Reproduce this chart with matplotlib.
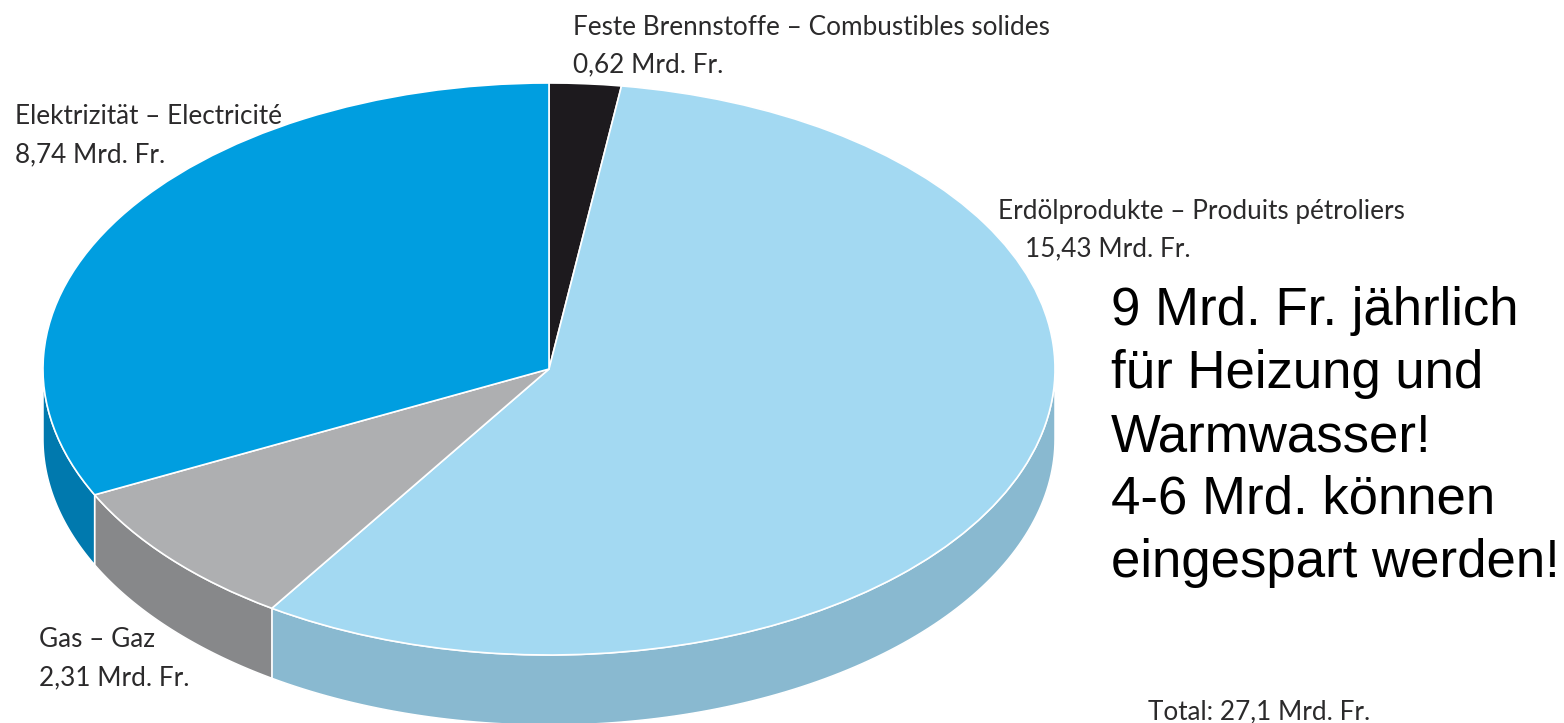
import numpy as np
import matplotlib
matplotlib.use("Agg")
import matplotlib.pyplot as plt
from matplotlib.patches import Wedge, Polygon
from matplotlib.transforms import Affine2D

# Energieausgaben Schweiz, Mrd. Fr. (clockwise from 12 o'clock)
labels = ["Feste Brennstoffe – Combustibles solides",
          "Erdölprodukte – Produits pétroliers",
          "Gas – Gaz",
          "Elektrizität – Electricité"]
values = [0.62, 15.43, 2.31, 8.74]
value_text = ["0,62 Mrd. Fr.", "15,43 Mrd. Fr.", "2,31 Mrd. Fr.", "8,74 Mrd. Fr."]
top_colors = ["#1d1a1e", "#a3d9f2", "#aeafb1", "#009ee0"]
side_colors = ["#141215", "#89b9d0", "#87888a", "#0079ae"]
total_text = "Total: 27,1 Mrd. Fr."
note_lines = ["9 Mrd. Fr. jährlich", "für Heizung und", "Warmwasser!",
              "4-6 Mrd. können", "eingespart werden!"]

# label placement (pixel coords, y down): left x of name / value, baselines
label_pos = [((573, 35), (573, 72)),
             ((998, 219), (1025, 256)),
             ((39, 647), (39, 685)),
             ((15, 124), (15, 162))]

W, H = 1564, 723
fig = plt.figure(figsize=(W / 100, H / 100), dpi=100)
ax = fig.add_axes([0, 0, 1, 1])
ax.set_xlim(0, W)
ax.set_ylim(H, 0)
ax.axis("off")

cx, cy, rx, ry, depth = 549, 369, 506, 286, 70
tr = Affine2D().scale(rx, -ry).translate(cx, cy) + ax.transData
d = depth / ry

fr = np.cumsum([0] + values) / sum(values)
t_start = 90 - 360 * fr[1:]   # wedge theta1
t_end = 90 - 360 * fr[:-1]    # wedge theta2

# side walls (front half only: -180..0 deg)
for i in range(len(values)):
    a1 = max(t_start[i], -180)
    a2 = min(t_end[i], 0)
    if a2 <= a1:
        continue
    th = np.radians(np.linspace(a1, a2, 120))
    top = np.column_stack([np.cos(th), np.sin(th)])
    bot = np.column_stack([np.cos(th[::-1]), np.sin(th[::-1]) - d])
    ax.add_patch(Polygon(np.vstack([top, bot]), closed=True, transform=tr,
                         facecolor=side_colors[i], edgecolor="white",
                         linewidth=1.1, zorder=1))

# top face
for i in range(len(values)):
    ax.add_patch(Wedge((0, 0), 1, t_start[i], t_end[i], transform=tr,
                       facecolor=top_colors[i], edgecolor="white",
                       linewidth=1.2, zorder=2))

lab_font = dict(family=["Lato", "DejaVu Sans"], fontsize=18.8, color="#2b2a2b")
for i in range(len(values)):
    (nx, ny), (vx, vy) = label_pos[i]
    ax.text(nx, ny, labels[i], ha="left", va="baseline", **lab_font)
    ax.text(vx, vy, value_text[i], ha="left", va="baseline", **lab_font)

ax.text(1148, 719, total_text, ha="left", va="baseline", **lab_font)

for k, line in enumerate(note_lines):
    ax.text(1111, 325 + 63 * k, line, ha="left", va="baseline",
            family=["Liberation Sans", "DejaVu Sans"], fontsize=38, color="black")

fig.savefig("out.png", dpi=100)
